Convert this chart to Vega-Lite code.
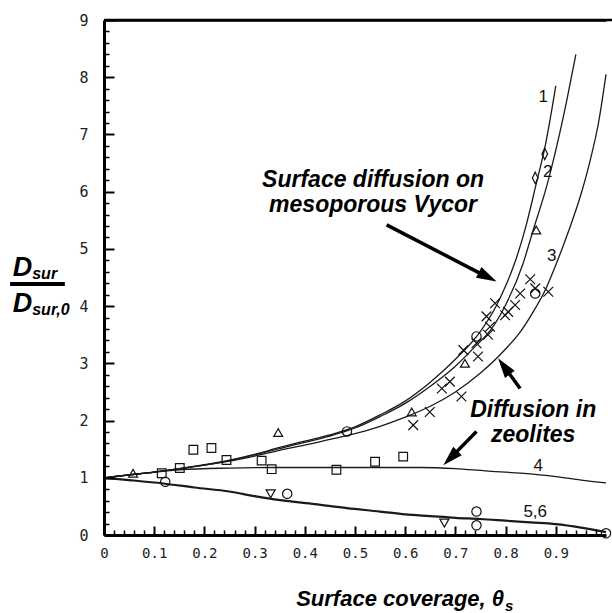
{
  "$schema": "https://vega.github.io/schema/vega-lite/v6.json",
  "width": 502,
  "height": 515,
  "autosize": {"type": "none"},
  "padding": {"left": 104, "top": 20, "right": 6, "bottom": 78},
  "config": {"view": {"stroke": null}, "background": "white"},
  "datasets": {
    "one": [{}],
    "curves": [
      {"c": "1", "x": 0, "y": 1}, {"c": "1", "x": 0.05, "y": 1.05}, {"c": "1", "x": 0.1, "y": 1.1}, {"c": "1", "x": 0.15, "y": 1.16}, {"c": "1", "x": 0.2, "y": 1.23}, {"c": "1", "x": 0.25, "y": 1.31}, {"c": "1", "x": 0.3, "y": 1.41}, {"c": "1", "x": 0.35, "y": 1.53}, {"c": "1", "x": 0.4, "y": 1.64}, {"c": "1", "x": 0.45, "y": 1.75}, {"c": "1", "x": 0.5, "y": 1.89}, {"c": "1", "x": 0.55, "y": 2.1}, {"c": "1", "x": 0.6, "y": 2.34}, {"c": "1", "x": 0.65, "y": 2.67}, {"c": "1", "x": 0.7, "y": 3.07}, {"c": "1", "x": 0.75, "y": 3.56}, {"c": "1", "x": 0.78, "y": 3.98}, {"c": "1", "x": 0.8, "y": 4.35}, {"c": "1", "x": 0.82, "y": 4.8}, {"c": "1", "x": 0.84, "y": 5.38}, {"c": "1", "x": 0.86, "y": 6.1}, {"c": "1", "x": 0.88, "y": 6.85}, {"c": "1", "x": 0.9, "y": 7.85},
      {"c": "2", "x": 0, "y": 1}, {"c": "2", "x": 0.05, "y": 1.05}, {"c": "2", "x": 0.1, "y": 1.1}, {"c": "2", "x": 0.15, "y": 1.16}, {"c": "2", "x": 0.2, "y": 1.22}, {"c": "2", "x": 0.25, "y": 1.3}, {"c": "2", "x": 0.3, "y": 1.4}, {"c": "2", "x": 0.35, "y": 1.51}, {"c": "2", "x": 0.4, "y": 1.62}, {"c": "2", "x": 0.45, "y": 1.73}, {"c": "2", "x": 0.5, "y": 1.87}, {"c": "2", "x": 0.55, "y": 2.07}, {"c": "2", "x": 0.6, "y": 2.3}, {"c": "2", "x": 0.65, "y": 2.6}, {"c": "2", "x": 0.7, "y": 2.95}, {"c": "2", "x": 0.74, "y": 3.3}, {"c": "2", "x": 0.77, "y": 3.58}, {"c": "2", "x": 0.8, "y": 4.02}, {"c": "2", "x": 0.835, "y": 4.75}, {"c": "2", "x": 0.855, "y": 5.33}, {"c": "2", "x": 0.882, "y": 6.1}, {"c": "2", "x": 0.902, "y": 6.8}, {"c": "2", "x": 0.922, "y": 7.6}, {"c": "2", "x": 0.94, "y": 8.4},
      {"c": "3", "x": 0, "y": 1}, {"c": "3", "x": 0.05, "y": 1.05}, {"c": "3", "x": 0.1, "y": 1.1}, {"c": "3", "x": 0.15, "y": 1.16}, {"c": "3", "x": 0.2, "y": 1.22}, {"c": "3", "x": 0.25, "y": 1.29}, {"c": "3", "x": 0.3, "y": 1.38}, {"c": "3", "x": 0.35, "y": 1.48}, {"c": "3", "x": 0.4, "y": 1.57}, {"c": "3", "x": 0.45, "y": 1.67}, {"c": "3", "x": 0.5, "y": 1.77}, {"c": "3", "x": 0.55, "y": 1.9}, {"c": "3", "x": 0.6, "y": 2.06}, {"c": "3", "x": 0.65, "y": 2.25}, {"c": "3", "x": 0.7, "y": 2.5}, {"c": "3", "x": 0.75, "y": 2.83}, {"c": "3", "x": 0.8, "y": 3.25}, {"c": "3", "x": 0.83, "y": 3.56}, {"c": "3", "x": 0.855, "y": 3.9}, {"c": "3", "x": 0.88, "y": 4.3}, {"c": "3", "x": 0.9, "y": 4.72}, {"c": "3", "x": 0.925, "y": 5.3}, {"c": "3", "x": 0.95, "y": 5.95}, {"c": "3", "x": 0.97, "y": 6.6}, {"c": "3", "x": 0.985, "y": 7.2}, {"c": "3", "x": 1.0, "y": 8.05},
      {"c": "4", "x": 0, "y": 1}, {"c": "4", "x": 0.06, "y": 1.06}, {"c": "4", "x": 0.15, "y": 1.14}, {"c": "4", "x": 0.25, "y": 1.17}, {"c": "4", "x": 0.35, "y": 1.18}, {"c": "4", "x": 0.45, "y": 1.18}, {"c": "4", "x": 0.55, "y": 1.18}, {"c": "4", "x": 0.63, "y": 1.18}, {"c": "4", "x": 0.7, "y": 1.16}, {"c": "4", "x": 0.76, "y": 1.12}, {"c": "4", "x": 0.83, "y": 1.08}, {"c": "4", "x": 0.9, "y": 1.02}, {"c": "4", "x": 0.95, "y": 0.96}, {"c": "4", "x": 1.0, "y": 0.91},
      {"c": "56", "x": 0, "y": 1}, {"c": "56", "x": 0.05, "y": 0.96}, {"c": "56", "x": 0.118, "y": 0.9}, {"c": "56", "x": 0.18, "y": 0.83}, {"c": "56", "x": 0.25, "y": 0.76}, {"c": "56", "x": 0.3, "y": 0.68}, {"c": "56", "x": 0.351, "y": 0.61}, {"c": "56", "x": 0.42, "y": 0.54}, {"c": "56", "x": 0.484, "y": 0.47}, {"c": "56", "x": 0.55, "y": 0.41}, {"c": "56", "x": 0.6, "y": 0.36}, {"c": "56", "x": 0.65, "y": 0.33}, {"c": "56", "x": 0.7, "y": 0.3}, {"c": "56", "x": 0.75, "y": 0.28}, {"c": "56", "x": 0.8, "y": 0.25}, {"c": "56", "x": 0.85, "y": 0.22}, {"c": "56", "x": 0.9, "y": 0.19}, {"c": "56", "x": 0.95, "y": 0.13}, {"c": "56", "x": 1.0, "y": 0.05}
    ],
    "points": [
      {"m": "square", "x": 0.115, "y": 1.08}, {"m": "square", "x": 0.151, "y": 1.17}, {"m": "square", "x": 0.178, "y": 1.49}, {"m": "square", "x": 0.214, "y": 1.52}, {"m": "square", "x": 0.244, "y": 1.31}, {"m": "square", "x": 0.314, "y": 1.3}, {"m": "square", "x": 0.334, "y": 1.15}, {"m": "square", "x": 0.463, "y": 1.14}, {"m": "square", "x": 0.54, "y": 1.28}, {"m": "square", "x": 0.596, "y": 1.37},
      {"m": "up", "x": 0.058, "y": 1.08}, {"m": "up", "x": 0.347, "y": 1.79}, {"m": "up", "x": 0.613, "y": 2.15}, {"m": "up", "x": 0.719, "y": 3.0}, {"m": "up", "x": 0.861, "y": 5.33},
      {"m": "down", "x": 0.332, "y": 0.72}, {"m": "down", "x": 0.678, "y": 0.21},
      {"m": "circle", "x": 0.122, "y": 0.93}, {"m": "circle", "x": 0.365, "y": 0.72}, {"m": "circle", "x": 0.484, "y": 1.81}, {"m": "circle", "x": 0.742, "y": 0.17}, {"m": "circle", "x": 0.742, "y": 0.41}, {"m": "circle", "x": 0.742, "y": 3.47}, {"m": "circle", "x": 0.859, "y": 4.22}, {"m": "circle", "x": 1.0, "y": 0.03},
      {"m": "diamond", "x": 0.878, "y": 6.66}, {"m": "diamond", "x": 0.859, "y": 6.24},
      {"m": "x", "x": 0.849, "y": 4.47}, {"m": "x", "x": 0.859, "y": 4.31}, {"m": "x", "x": 0.885, "y": 4.25}, {"m": "x", "x": 0.829, "y": 4.22}, {"m": "x", "x": 0.819, "y": 4.02}, {"m": "x", "x": 0.805, "y": 3.9}, {"m": "x", "x": 0.799, "y": 3.84}, {"m": "x", "x": 0.779, "y": 4.05}, {"m": "x", "x": 0.762, "y": 3.82}, {"m": "x", "x": 0.769, "y": 3.64}, {"m": "x", "x": 0.765, "y": 3.5}, {"m": "x", "x": 0.716, "y": 3.23}, {"m": "x", "x": 0.745, "y": 3.12}, {"m": "x", "x": 0.742, "y": 3.35}, {"m": "x", "x": 0.689, "y": 2.68}, {"m": "x", "x": 0.673, "y": 2.56}, {"m": "x", "x": 0.712, "y": 2.42}, {"m": "x", "x": 0.649, "y": 2.15}, {"m": "x", "x": 0.616, "y": 1.92}
    ],
    "curveLabels": [
      {"t": "1", "x": 0.875, "y": 7.65}, {"t": "2", "x": 0.884, "y": 6.34}, {"t": "3", "x": 0.892, "y": 4.88}, {"t": "4", "x": 0.865, "y": 1.2}, {"t": "5,6", "x": 0.859, "y": 0.4}
    ],
    "notes": [
      {"t": "Surface diffusion on", "x": 0.536, "y": 6.09}, {"t": "mesoporous Vycor", "x": 0.536, "y": 5.65},
      {"t": "Diffusion in", "x": 0.855, "y": 2.07}, {"t": "zeolites", "x": 0.855, "y": 1.63}
    ],
    "arrows": [
      {"x": 0.563, "y": 5.42, "x2": 0.761, "y2": 4.52},
      {"x": 0.829, "y": 2.56, "x2": 0.799, "y2": 2.92},
      {"x": 0.742, "y": 1.81, "x2": 0.693, "y2": 1.37}
    ]
  },
  "resolve": {"axis": {"x": "independent", "y": "independent"}},
  "layer": [
    {
      "data": {"name": "one"},
      "mark": {"type": "rule", "color": "#000", "strokeWidth": 2.5},
      "encoding": {
        "x": {"datum": 0, "type": "quantitative",
          "scale": {"domain": [0, 1], "nice": false, "zero": false},
          "axis": {"title": null, "orient": "bottom", "labels": false, "domain": false, "grid": false, "ticks": true, "zindex": 2, "tickSize": -5, "tickColor": "#000", "tickWidth": 1.5,
            "values": [0.02,0.04,0.06,0.08,0.12,0.14,0.16,0.18,0.22,0.24,0.26,0.28,0.32,0.34,0.36,0.38,0.42,0.44,0.46,0.48,0.52,0.54,0.56,0.58,0.62,0.64,0.66,0.68,0.72,0.74,0.76,0.78,0.82,0.84,0.86,0.88,0.92,0.94,0.96,0.98]}},
        "x2": {"datum": 1.02},
        "y": {"datum": 9, "type": "quantitative",
          "scale": {"domain": [0, 9], "nice": false, "zero": false},
          "axis": {"title": null, "orient": "left", "labels": false, "domain": false, "grid": false, "ticks": true, "zindex": 2, "tickSize": -5, "tickColor": "#000", "tickWidth": 1.5,
            "values": [0.2,0.4,0.6,0.8,1.2,1.4,1.6,1.8,2.2,2.4,2.6,2.8,3.2,3.4,3.6,3.8,4.2,4.4,4.6,4.8,5.2,5.4,5.6,5.8,6.2,6.4,6.6,6.8,7.2,7.4,7.6,7.8,8.2,8.4,8.6,8.8]}}
      }
    },
    {
      "data": {"name": "curves"},
      "transform": [{"filter": "datum.c != '56'"}],
      "mark": {"type": "line", "color": "#1a1a1a", "strokeWidth": 1.3, "interpolate": "monotone"},
      "encoding": {
        "x": {
          "field": "x", "type": "quantitative",
          "axis": {
            "title": null, "orient": "bottom", "zindex": 2, "ticks": true,
            "values": [0,0.1,0.2,0.3,0.4,0.5,0.6,0.7,0.8,0.9],
            "format": ".1~f",
            "tickSize": -9,
            "tickColor": "#000", "tickWidth": 2,
            "domainColor": "#000", "domainWidth": 3,
            "labelFont": "DejaVu Sans Mono", "labelFontSize": 14, "labelColor": "#222",
            "labelPadding": 20, "labelOverlap": false, "labelFlush": false, "grid": false
          }
        },
        "y": {
          "field": "y", "type": "quantitative",
          "axis": {
            "title": null, "orient": "left", "zindex": 2, "ticks": true,
            "values": [0,1,2,3,4,5,6,7,8,9],
            "format": "d",
            "tickSize": -10,
            "tickColor": "#000", "tickWidth": 2,
            "domainColor": "#000", "domainWidth": 3,
            "labelFont": "DejaVu Sans Mono", "labelFontSize": 15, "labelColor": "#222",
            "labelPadding": 26, "labelOverlap": false, "labelFlush": false, "grid": false
          }
        },
        "detail": {"field": "c", "type": "nominal"}
      }
    },
    {
      "data": {"name": "curves"},
      "transform": [{"filter": "datum.c == '56'"}],
      "mark": {"type": "line", "color": "#1a1a1a", "strokeWidth": 2.2, "interpolate": "monotone"},
      "encoding": {
        "x": {"field": "x", "type": "quantitative",
          "axis": {"title": null, "orient": "top", "labels": false, "ticks": false, "grid": false, "domain": true, "domainColor": "#000", "domainWidth": 2.5, "zindex": 2}},
        "y": {"field": "y", "type": "quantitative", "axis": null}
      }
    },
    {
      "data": {"name": "points"},
      "mark": {"type": "point", "filled": false, "color": "#111", "strokeWidth": 1.2, "opacity": 1},
      "encoding": {
        "x": {"field": "x", "type": "quantitative", "axis": null},
        "y": {"field": "y", "type": "quantitative", "axis": null},
        "shape": {"field": "m", "type": "nominal", "legend": null,
          "scale": {"domain": ["square", "up", "down", "circle", "diamond", "x"],
                    "range": ["square", "triangle-up", "triangle-down", "circle", "M0,-1.2L0.6,0L0,1.2L-0.6,0Z", "M-1,-1L1,1M1,-1L-1,1"]}},
        "size": {"field": "m", "type": "nominal", "legend": null,
          "scale": {"domain": ["square", "up", "down", "circle", "diamond", "x"], "range": [75, 95, 95, 60, 70, 60]}}
      }
    },
    {
      "data": {"name": "curveLabels"},
      "mark": {"type": "text", "font": "Liberation Sans", "fontSize": 17, "color": "#111", "baseline": "middle", "align": "center"},
      "encoding": {
        "x": {"field": "x", "type": "quantitative", "axis": null},
        "y": {"field": "y", "type": "quantitative", "axis": null},
        "text": {"field": "t"}
      }
    },
    {
      "data": {"name": "notes"},
      "mark": {"type": "text", "font": "Liberation Sans", "fontSize": 23, "fontWeight": "bold", "fontStyle": "italic", "color": "#000", "baseline": "alphabetic", "align": "center"},
      "encoding": {
        "x": {"field": "x", "type": "quantitative", "axis": null},
        "y": {"field": "y", "type": "quantitative", "axis": null},
        "text": {"field": "t"}
      }
    },
    {
      "data": {"name": "arrows"},
      "mark": {"type": "rule", "color": "#000", "strokeWidth": 3.5},
      "encoding": {
        "x": {"field": "x", "type": "quantitative", "axis": null},
        "y": {"field": "y", "type": "quantitative", "axis": null},
        "x2": {"field": "x2"},
        "y2": {"field": "y2"}
      }
    },
    {
      "data": {"name": "one"},
      "mark": {"type": "point", "shape": "M0,0L0.6,2L-0.6,2Z", "filled": true, "color": "#000", "size": 400, "angle": 117, "opacity": 1},
      "encoding": {"x": {"datum": 0.782, "type": "quantitative", "axis": null}, "y": {"datum": 4.43, "type": "quantitative", "axis": null}}
    },
    {
      "data": {"name": "one"},
      "mark": {"type": "point", "shape": "M0,0L0.6,2L-0.6,2Z", "filled": true, "color": "#000", "size": 400, "angle": 324, "opacity": 1},
      "encoding": {"x": {"datum": 0.785, "type": "quantitative", "axis": null}, "y": {"datum": 3.09, "type": "quantitative", "axis": null}}
    },
    {
      "data": {"name": "one"},
      "mark": {"type": "point", "shape": "M0,0L0.6,2L-0.6,2Z", "filled": true, "color": "#000", "size": 400, "angle": 225, "opacity": 1},
      "encoding": {"x": {"datum": 0.676, "type": "quantitative", "axis": null}, "y": {"datum": 1.22, "type": "quantitative", "axis": null}}
    },
    {
      "data": {"name": "one"},
      "mark": {"type": "text", "font": "Liberation Sans", "fontSize": 22, "fontWeight": "bold", "fontStyle": "italic", "color": "#000", "align": "right", "baseline": "alphabetic", "text": "Surface coverage, θ"},
      "encoding": {"x": {"datum": 0.797, "type": "quantitative", "axis": null}, "y": {"datum": -1.24, "type": "quantitative", "axis": null}}
    },
    {
      "data": {"name": "one"},
      "mark": {"type": "text", "font": "Liberation Sans", "fontSize": 15, "fontWeight": "bold", "fontStyle": "italic", "color": "#000", "align": "left", "baseline": "alphabetic", "text": "s"},
      "encoding": {"x": {"datum": 0.799, "type": "quantitative", "axis": null}, "y": {"datum": -1.32, "type": "quantitative", "axis": null}}
    },
    {
      "data": {"name": "one"},
      "mark": {"type": "text", "font": "Liberation Sans", "fontSize": 27, "fontWeight": "bold", "fontStyle": "italic", "color": "#000", "align": "right", "baseline": "alphabetic", "text": "D"},
      "encoding": {"x": {"datum": -0.143, "type": "quantitative", "axis": null}, "y": {"datum": 4.526, "type": "quantitative", "axis": null}}
    },
    {
      "data": {"name": "one"},
      "mark": {"type": "text", "font": "Liberation Sans", "fontSize": 16, "fontWeight": "bold", "fontStyle": "italic", "color": "#000", "align": "left", "baseline": "alphabetic", "text": "sur"},
      "encoding": {"x": {"datum": -0.143, "type": "quantitative", "axis": null}, "y": {"datum": 4.474, "type": "quantitative", "axis": null}}
    },
    {
      "data": {"name": "one"},
      "mark": {"type": "rule", "color": "#000", "strokeWidth": 4},
      "encoding": {"x": {"datum": -0.187, "type": "quantitative", "axis": null}, "x2": {"datum": -0.078}, "y": {"datum": 4.387, "type": "quantitative", "axis": null}}
    },
    {
      "data": {"name": "one"},
      "mark": {"type": "text", "font": "Liberation Sans", "fontSize": 27, "fontWeight": "bold", "fontStyle": "italic", "color": "#000", "align": "right", "baseline": "alphabetic", "text": "D"},
      "encoding": {"x": {"datum": -0.143, "type": "quantitative", "axis": null}, "y": {"datum": 3.9, "type": "quantitative", "axis": null}}
    },
    {
      "data": {"name": "one"},
      "mark": {"type": "text", "font": "Liberation Sans", "fontSize": 16, "fontWeight": "bold", "fontStyle": "italic", "color": "#000", "align": "left", "baseline": "alphabetic", "text": "sur,0"},
      "encoding": {"x": {"datum": -0.143, "type": "quantitative", "axis": null}, "y": {"datum": 3.848, "type": "quantitative", "axis": null}}
    }
  ]
}
